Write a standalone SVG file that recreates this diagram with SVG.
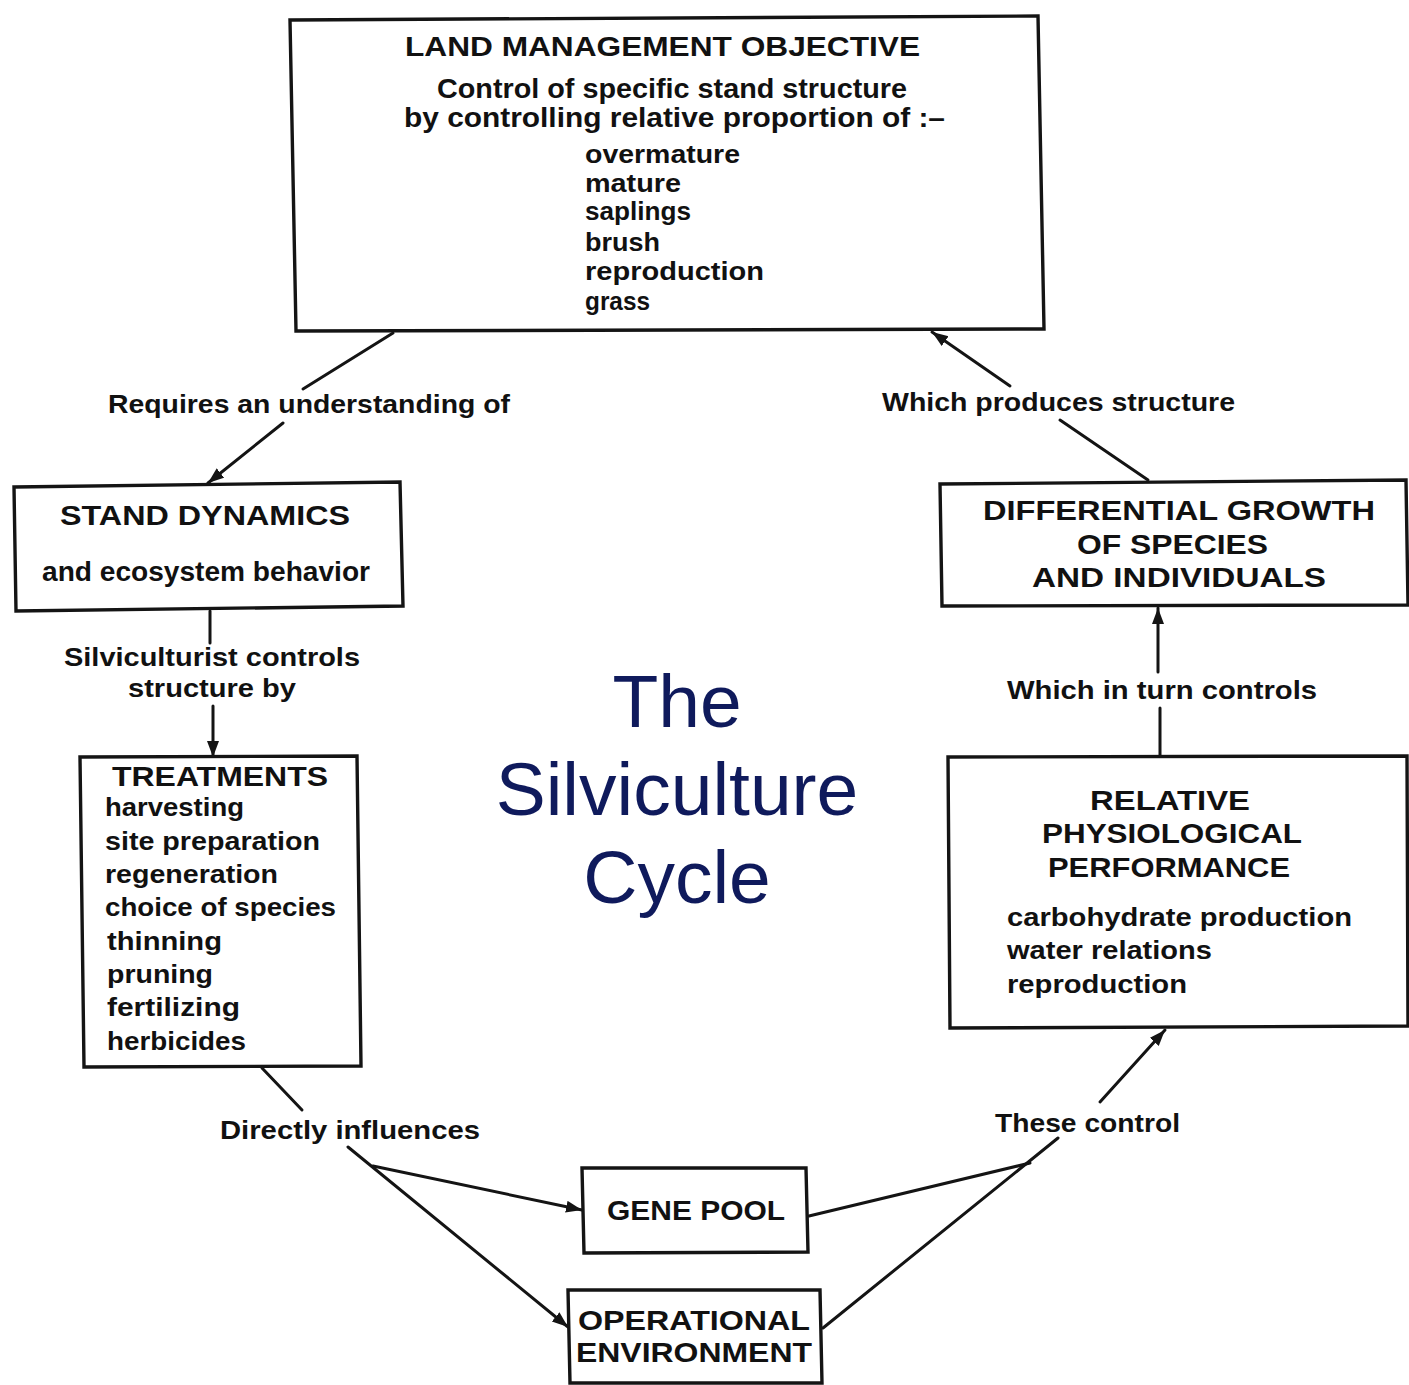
<svg xmlns="http://www.w3.org/2000/svg" width="1409" height="1385" viewBox="0 0 1409 1385">
  <style>
    .box { fill: #ffffff; stroke: #141414; stroke-width: 3.4; stroke-linejoin: miter; }
    .ln { fill: none; stroke: #141414; stroke-width: 3; stroke-linecap: round; }
    .t { font-family: "Liberation Sans", Arial, sans-serif; font-weight: bold; fill: #111111; }
    .cap { font-size: 28px; }
    .sub { font-size: 27px; }
    .item { font-size: 26px; }
    .lbl { font-size: 26px; }
    .big { font-family: "Liberation Sans", Arial, sans-serif; font-size: 75px; fill: #0f1a5c; text-anchor: middle; }
  </style>
  <defs>
    <marker id="arrow" markerUnits="userSpaceOnUse" markerWidth="18" markerHeight="14" refX="16" refY="6" orient="auto">
      <path d="M0,0 L16,6 L0,12 z" fill="#141414"/>
    </marker>
  </defs>
  <rect width="1409" height="1385" fill="#ffffff"/>

  <!-- connectors -->
  <g id="connectors">
    <!-- objective -> stand dynamics -->
    <line class="ln" x1="393" y1="333" x2="303" y2="389"/>
    <line class="ln" x1="283" y1="423" x2="208" y2="483" marker-end="url(#arrow)"/>
    <!-- stand dynamics -> treatments -->
    <line class="ln" x1="210" y1="611" x2="210" y2="643"/>
    <line class="ln" x1="213" y1="706" x2="213" y2="757" marker-end="url(#arrow)"/>
    <!-- treatments -> gene pool / operational environment -->
    <line class="ln" x1="262" y1="1068" x2="302" y2="1110"/>
    <line class="ln" x1="348" y1="1147" x2="568" y2="1327" marker-end="url(#arrow)"/>
    <line class="ln" x1="373" y1="1166" x2="582" y2="1210" marker-end="url(#arrow)"/>
    <!-- gene pool / operational environment -> physiological performance -->
    <line class="ln" x1="809" y1="1216" x2="1030" y2="1163"/>
    <line class="ln" x1="823" y1="1328" x2="1058" y2="1138"/>
    <line class="ln" x1="1100" y1="1102" x2="1165" y2="1030" marker-end="url(#arrow)"/>
    <!-- physiological performance -> differential growth -->
    <line class="ln" x1="1160" y1="757" x2="1160" y2="708"/>
    <line class="ln" x1="1158" y1="672" x2="1158" y2="608" marker-end="url(#arrow)"/>
    <!-- differential growth -> objective -->
    <line class="ln" x1="1148" y1="480" x2="1060" y2="420"/>
    <line class="ln" x1="1010" y1="386" x2="932" y2="332" marker-end="url(#arrow)"/>
  </g>

  <!-- connector labels -->
  <g id="labels">
    <text class="t lbl" x="108" y="413" textLength="402" lengthAdjust="spacingAndGlyphs">Requires an understanding of</text>
    <text class="t lbl" x="882" y="411" textLength="353" lengthAdjust="spacingAndGlyphs">Which produces structure</text>
    <text class="t lbl" x="64" y="666" textLength="296" lengthAdjust="spacingAndGlyphs">Silviculturist controls</text>
    <text class="t lbl" x="128" y="697" textLength="168" lengthAdjust="spacingAndGlyphs">structure by</text>
    <text class="t lbl" x="1007" y="699" textLength="310" lengthAdjust="spacingAndGlyphs">Which in turn controls</text>
    <text class="t lbl" x="220" y="1139" textLength="260" lengthAdjust="spacingAndGlyphs">Directly influences</text>
    <text class="t lbl" x="995" y="1132" textLength="185" lengthAdjust="spacingAndGlyphs">These control</text>
  </g>

  <!-- land management objective -->
  <g id="objective">
    <polygon class="box" points="290,20 1038,16 1044,329 296,331"/>
    <text class="t cap" x="405" y="56" textLength="515" lengthAdjust="spacingAndGlyphs">LAND MANAGEMENT OBJECTIVE</text>
    <text class="t sub" x="437" y="98" textLength="470" lengthAdjust="spacingAndGlyphs">Control of specific stand structure</text>
    <text class="t sub" x="404" y="127" textLength="541" lengthAdjust="spacingAndGlyphs">by controlling relative proportion of :–</text>
    <text class="t item" x="585" y="163" textLength="155" lengthAdjust="spacingAndGlyphs">overmature</text>
    <text class="t item" x="585" y="192" textLength="96" lengthAdjust="spacingAndGlyphs">mature</text>
    <text class="t item" x="585" y="220" textLength="106" lengthAdjust="spacingAndGlyphs">saplings</text>
    <text class="t item" x="585" y="251" textLength="75" lengthAdjust="spacingAndGlyphs">brush</text>
    <text class="t item" x="585" y="280" textLength="179" lengthAdjust="spacingAndGlyphs">reproduction</text>
    <text class="t item" x="585" y="310" textLength="65" lengthAdjust="spacingAndGlyphs">grass</text>
  </g>

  <!-- stand dynamics -->
  <g id="stand-dynamics">
    <polygon class="box" points="14,487 400,482 403,606 16,611"/>
    <text class="t cap" x="60" y="525" textLength="290" lengthAdjust="spacingAndGlyphs">STAND DYNAMICS</text>
    <text class="t sub" x="42" y="581" textLength="328" lengthAdjust="spacingAndGlyphs">and ecosystem behavior</text>
  </g>

  <!-- treatments -->
  <g id="treatments">
    <polygon class="box" points="80,757 357,756 361,1066 84,1067"/>
    <text class="t cap" x="112" y="786" textLength="216" lengthAdjust="spacingAndGlyphs">TREATMENTS</text>
    <text class="t item" x="105" y="816" textLength="139" lengthAdjust="spacingAndGlyphs">harvesting</text>
    <text class="t item" x="105" y="850" textLength="215" lengthAdjust="spacingAndGlyphs">site preparation</text>
    <text class="t item" x="105" y="883" textLength="173" lengthAdjust="spacingAndGlyphs">regeneration</text>
    <text class="t item" x="105" y="916" textLength="231" lengthAdjust="spacingAndGlyphs">choice of species</text>
    <text class="t item" x="107" y="950" textLength="115" lengthAdjust="spacingAndGlyphs">thinning</text>
    <text class="t item" x="107" y="983" textLength="106" lengthAdjust="spacingAndGlyphs">pruning</text>
    <text class="t item" x="107" y="1016" textLength="133" lengthAdjust="spacingAndGlyphs">fertilizing</text>
    <text class="t item" x="107" y="1050" textLength="139" lengthAdjust="spacingAndGlyphs">herbicides</text>
  </g>

  <!-- gene pool -->
  <g id="gene-pool">
    <polygon class="box" points="582,1168 806,1168 808,1252 584,1253"/>
    <text class="t cap" x="607" y="1220" textLength="178" lengthAdjust="spacingAndGlyphs">GENE POOL</text>
  </g>

  <!-- operational environment -->
  <g id="operational-environment">
    <polygon class="box" points="568,1290 820,1290 822,1383 570,1383"/>
    <text class="t cap" x="578" y="1330" textLength="232" lengthAdjust="spacingAndGlyphs">OPERATIONAL</text>
    <text class="t cap" x="576" y="1362" textLength="236" lengthAdjust="spacingAndGlyphs">ENVIRONMENT</text>
  </g>

  <!-- relative physiological performance -->
  <g id="physiological-performance">
    <polygon class="box" points="948,757 1407,756 1408,1026 950,1028"/>
    <text class="t cap" x="1090" y="810" textLength="160" lengthAdjust="spacingAndGlyphs">RELATIVE</text>
    <text class="t cap" x="1042" y="843" textLength="260" lengthAdjust="spacingAndGlyphs">PHYSIOLOGICAL</text>
    <text class="t cap" x="1048" y="877" textLength="242" lengthAdjust="spacingAndGlyphs">PERFORMANCE</text>
    <text class="t item" x="1007" y="926" textLength="345" lengthAdjust="spacingAndGlyphs">carbohydrate production</text>
    <text class="t item" x="1007" y="959" textLength="205" lengthAdjust="spacingAndGlyphs">water relations</text>
    <text class="t item" x="1007" y="993" textLength="180" lengthAdjust="spacingAndGlyphs">reproduction</text>
  </g>

  <!-- differential growth -->
  <g id="differential-growth">
    <polygon class="box" points="940,484 1406,480 1408,605 942,606"/>
    <text class="t cap" x="983" y="520" textLength="392" lengthAdjust="spacingAndGlyphs">DIFFERENTIAL GROWTH</text>
    <text class="t cap" x="1077" y="554" textLength="191" lengthAdjust="spacingAndGlyphs">OF SPECIES</text>
    <text class="t cap" x="1032" y="587" textLength="294" lengthAdjust="spacingAndGlyphs">AND INDIVIDUALS</text>
  </g>

  <!-- central title -->
  <g id="title">
    <text class="big" x="677" y="727">The</text>
    <text class="big" x="677" y="815">Silviculture</text>
    <text class="big" x="677" y="903">Cycle</text>
  </g>
</svg>
